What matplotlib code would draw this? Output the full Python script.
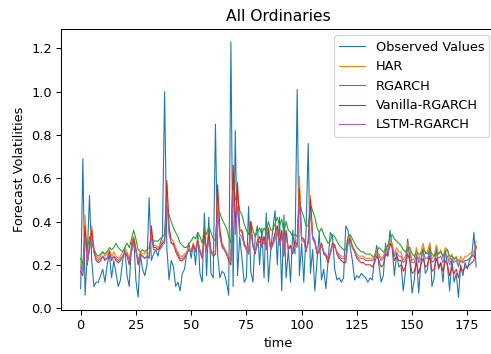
import numpy as np
import matplotlib
matplotlib.use('Agg')
import matplotlib.pyplot as plt

# observed realised volatility, All Ordinaries
observed = [0.09, 0.69, 0.06, 0.25, 0.52, 0.22, 0.10, 0.12, 0.12, 0.15,
            0.18, 0.12, 0.20, 0.25, 0.14, 0.22, 0.16, 0.10, 0.13, 0.22,
            0.27, 0.15, 0.10, 0.30, 0.33, 0.13, 0.05, 0.25, 0.18, 0.15,
            0.20, 0.51, 0.22, 0.25, 0.27, 0.24, 0.30, 0.33, 1.00, 0.28,
            0.13, 0.22, 0.19, 0.10, 0.12, 0.08, 0.16, 0.18, 0.25, 0.30,
            0.23, 0.30, 0.20, 0.35, 0.16, 0.12, 0.44, 0.15, 0.42, 0.16,
            0.14, 0.85, 0.25, 0.14, 0.17, 0.16, 0.12, 0.06, 1.23, 0.10,
            0.82, 0.15, 0.33, 0.23, 0.12, 0.14, 0.47, 0.17, 0.12, 0.33,
            0.38, 0.20, 0.37, 0.14, 0.44, 0.12, 0.26, 0.37, 0.45, 0.20,
            0.42, 0.08, 0.43, 0.14, 0.27, 0.12, 0.36, 0.25, 1.01, 0.15,
            0.30, 0.12, 0.35, 0.76, 0.16, 0.27, 0.08, 0.22, 0.35, 0.13,
            0.18, 0.09, 0.22, 0.35, 0.33, 0.18, 0.13, 0.14, 0.12, 0.14,
            0.38, 0.36, 0.28, 0.22, 0.13, 0.15, 0.14, 0.16, 0.15, 0.14,
            0.12, 0.14, 0.13, 0.23, 0.29, 0.20, 0.12, 0.15, 0.30, 0.24,
            0.36, 0.28, 0.15, 0.25, 0.19, 0.20, 0.08, 0.17, 0.32, 0.22,
            0.07, 0.13, 0.24, 0.07, 0.21, 0.28, 0.16, 0.18, 0.30, 0.10,
            0.14, 0.29, 0.18, 0.21, 0.12, 0.27, 0.20, 0.08, 0.23, 0.12,
            0.16, 0.05, 0.20, 0.15, 0.21, 0.18, 0.22, 0.24, 0.35, 0.19]

har = [0.20, 0.18, 0.43, 0.22, 0.30, 0.38, 0.28, 0.24, 0.23, 0.24,
       0.26, 0.24, 0.25, 0.27, 0.24, 0.26, 0.24, 0.23, 0.24, 0.26,
       0.28, 0.26, 0.23, 0.28, 0.33, 0.28, 0.22, 0.26, 0.25, 0.25,
       0.26, 0.25, 0.36, 0.29, 0.29, 0.28, 0.29, 0.31, 0.32, 0.57,
       0.37, 0.32, 0.31, 0.28, 0.26, 0.24, 0.24, 0.25, 0.26, 0.28,
       0.27, 0.30, 0.27, 0.32, 0.27, 0.25, 0.34, 0.27, 0.33, 0.27,
       0.25, 0.26, 0.53, 0.36, 0.30, 0.28, 0.26, 0.24, 0.22, 0.66,
       0.36, 0.55, 0.36, 0.35, 0.30, 0.28, 0.26, 0.38, 0.29, 0.26,
       0.31, 0.33, 0.29, 0.33, 0.28, 0.36, 0.28, 0.30, 0.34, 0.37,
       0.30, 0.35, 0.25, 0.35, 0.27, 0.29, 0.26, 0.30, 0.29, 0.61,
       0.33, 0.32, 0.27, 0.31, 0.52, 0.33, 0.31, 0.26, 0.27, 0.30,
       0.26, 0.25, 0.23, 0.26, 0.30, 0.29, 0.26, 0.25, 0.24, 0.24,
       0.24, 0.32, 0.33, 0.29, 0.27, 0.25, 0.24, 0.24, 0.24, 0.23,
       0.23, 0.23, 0.23, 0.24, 0.27, 0.25, 0.23, 0.24, 0.28, 0.27,
       0.31, 0.30, 0.25, 0.28, 0.26, 0.26, 0.22, 0.24, 0.30, 0.27,
       0.22, 0.23, 0.28, 0.22, 0.26, 0.30, 0.25, 0.26, 0.30, 0.23,
       0.24, 0.29, 0.25, 0.27, 0.23, 0.28, 0.27, 0.22, 0.25, 0.22,
       0.24, 0.20, 0.24, 0.22, 0.24, 0.24, 0.25, 0.26, 0.26, 0.31]

rgarch = [0.23, 0.20, 0.35, 0.27, 0.33, 0.30, 0.27, 0.25, 0.24, 0.25,
          0.26, 0.25, 0.26, 0.28, 0.27, 0.28, 0.30, 0.28, 0.27, 0.26,
          0.28, 0.30, 0.28, 0.32, 0.36, 0.32, 0.27, 0.26, 0.27, 0.26,
          0.27, 0.28, 0.33, 0.31, 0.31, 0.31, 0.32, 0.33, 0.34, 0.47,
          0.43, 0.40, 0.37, 0.35, 0.33, 0.30, 0.29, 0.28, 0.28, 0.30,
          0.31, 0.33, 0.32, 0.35, 0.33, 0.30, 0.37, 0.34, 0.38, 0.35,
          0.32, 0.31, 0.45, 0.44, 0.41, 0.39, 0.37, 0.33, 0.30, 0.61,
          0.50, 0.52, 0.45, 0.43, 0.39, 0.36, 0.34, 0.40, 0.36, 0.33,
          0.35, 0.37, 0.34, 0.37, 0.35, 0.40, 0.36, 0.36, 0.39, 0.42,
          0.38, 0.41, 0.35, 0.40, 0.36, 0.35, 0.33, 0.34, 0.33, 0.50,
          0.45, 0.42, 0.38, 0.38, 0.48, 0.45, 0.42, 0.37, 0.35, 0.37,
          0.34, 0.32, 0.30, 0.31, 0.34, 0.33, 0.31, 0.29, 0.28, 0.27,
          0.27, 0.33, 0.34, 0.32, 0.30, 0.28, 0.27, 0.26, 0.26, 0.25,
          0.25, 0.25, 0.24, 0.24, 0.26, 0.28, 0.27, 0.26, 0.27, 0.29,
          0.32, 0.34, 0.32, 0.31, 0.30, 0.29, 0.27, 0.26, 0.28, 0.28,
          0.25, 0.24, 0.26, 0.25, 0.25, 0.27, 0.26, 0.25, 0.27, 0.25,
          0.24, 0.26, 0.25, 0.26, 0.24, 0.26, 0.27, 0.24, 0.24, 0.23,
          0.23, 0.22, 0.22, 0.21, 0.22, 0.22, 0.23, 0.24, 0.25, 0.28]

vanilla = [0.17, 0.15, 0.38, 0.20, 0.28, 0.36, 0.26, 0.22, 0.21, 0.22,
           0.24, 0.22, 0.23, 0.26, 0.22, 0.24, 0.22, 0.21, 0.22, 0.24,
           0.26, 0.24, 0.20, 0.26, 0.32, 0.27, 0.20, 0.25, 0.24, 0.23,
           0.24, 0.23, 0.38, 0.28, 0.28, 0.27, 0.28, 0.30, 0.31, 0.59,
           0.38, 0.30, 0.30, 0.26, 0.24, 0.22, 0.22, 0.23, 0.25, 0.27,
           0.26, 0.29, 0.26, 0.31, 0.26, 0.23, 0.35, 0.26, 0.34, 0.26,
           0.24, 0.25, 0.57, 0.36, 0.29, 0.27, 0.25, 0.22, 0.20, 0.66,
           0.38, 0.58, 0.36, 0.36, 0.30, 0.27, 0.25, 0.40, 0.29, 0.25,
           0.31, 0.33, 0.28, 0.33, 0.27, 0.37, 0.27, 0.30, 0.35, 0.38,
           0.30, 0.36, 0.24, 0.36, 0.27, 0.29, 0.25, 0.31, 0.29, 0.55,
           0.32, 0.32, 0.26, 0.31, 0.50, 0.33, 0.31, 0.25, 0.26, 0.30,
           0.25, 0.24, 0.21, 0.25, 0.30, 0.29, 0.25, 0.23, 0.22, 0.21,
           0.21, 0.31, 0.32, 0.28, 0.26, 0.23, 0.22, 0.21, 0.21, 0.20,
           0.20, 0.20, 0.19, 0.21, 0.24, 0.22, 0.19, 0.20, 0.25, 0.24,
           0.30, 0.28, 0.22, 0.24, 0.22, 0.22, 0.17, 0.19, 0.25, 0.22,
           0.16, 0.17, 0.21, 0.16, 0.20, 0.23, 0.19, 0.20, 0.24, 0.17,
           0.18, 0.23, 0.19, 0.21, 0.17, 0.22, 0.20, 0.15, 0.19, 0.16,
           0.18, 0.14, 0.19, 0.17, 0.19, 0.19, 0.20, 0.21, 0.22, 0.29]

lstm = [0.19, 0.17, 0.33, 0.21, 0.27, 0.32, 0.26, 0.23, 0.22, 0.23,
        0.24, 0.23, 0.23, 0.25, 0.23, 0.24, 0.23, 0.22, 0.23, 0.24,
        0.26, 0.25, 0.22, 0.26, 0.30, 0.26, 0.22, 0.24, 0.24, 0.23,
        0.24, 0.24, 0.33, 0.27, 0.27, 0.27, 0.27, 0.29, 0.30, 0.49,
        0.34, 0.30, 0.29, 0.27, 0.25, 0.23, 0.23, 0.24, 0.25, 0.27,
        0.26, 0.28, 0.26, 0.30, 0.26, 0.24, 0.31, 0.26, 0.31, 0.26,
        0.24, 0.25, 0.45, 0.33, 0.28, 0.27, 0.25, 0.23, 0.22, 0.54,
        0.34, 0.47, 0.34, 0.33, 0.29, 0.27, 0.25, 0.35, 0.28, 0.26,
        0.29, 0.31, 0.28, 0.31, 0.27, 0.34, 0.27, 0.29, 0.32, 0.35,
        0.29, 0.33, 0.25, 0.33, 0.27, 0.28, 0.26, 0.29, 0.28, 0.50,
        0.31, 0.31, 0.27, 0.30, 0.45, 0.32, 0.30, 0.26, 0.26, 0.29,
        0.26, 0.25, 0.23, 0.25, 0.29, 0.28, 0.26, 0.24, 0.23, 0.23,
        0.23, 0.30, 0.31, 0.28, 0.26, 0.24, 0.23, 0.23, 0.23, 0.22,
        0.22, 0.22, 0.22, 0.23, 0.25, 0.24, 0.22, 0.23, 0.26, 0.25,
        0.29, 0.28, 0.24, 0.26, 0.24, 0.24, 0.21, 0.22, 0.27, 0.25,
        0.21, 0.21, 0.25, 0.21, 0.23, 0.26, 0.23, 0.23, 0.26, 0.21,
        0.22, 0.25, 0.23, 0.24, 0.21, 0.25, 0.24, 0.20, 0.23, 0.21,
        0.22, 0.19, 0.22, 0.21, 0.22, 0.22, 0.23, 0.24, 0.24, 0.28]

t = np.arange(len(observed))

# the reference looks like a slightly shrunk 100-dpi figure, so render at 93 dpi;
# its right spine falls just outside the picture
dpi = 93
fig = plt.figure(figsize=(491 / dpi, 354 / dpi), dpi=dpi)
ax = fig.add_subplot(111)
fig.subplots_adjust(left=0.124, right=1.01, top=0.918, bottom=0.124)

lw = 0.85
ax.plot(t, observed, color='tab:blue', lw=lw, label='Observed Values')
ax.plot(t, har, color='tab:orange', lw=lw, label='HAR')
ax.plot(t, rgarch, color='tab:green', lw=lw, label='RGARCH')
ax.plot(t, vanilla, color='tab:red', lw=lw, label='Vanilla-RGARCH')
ax.plot(t, lstm, color='tab:purple', lw=lw, label='LSTM-RGARCH')

ax.set_title('All Ordinaries')
ax.set_xlabel('time')
ax.set_ylabel('Forecast Volatilities')
ax.set_xticks([0, 25, 50, 75, 100, 125, 150, 175])
ax.legend(loc='upper right')

plt.savefig('out.png', dpi=dpi)
